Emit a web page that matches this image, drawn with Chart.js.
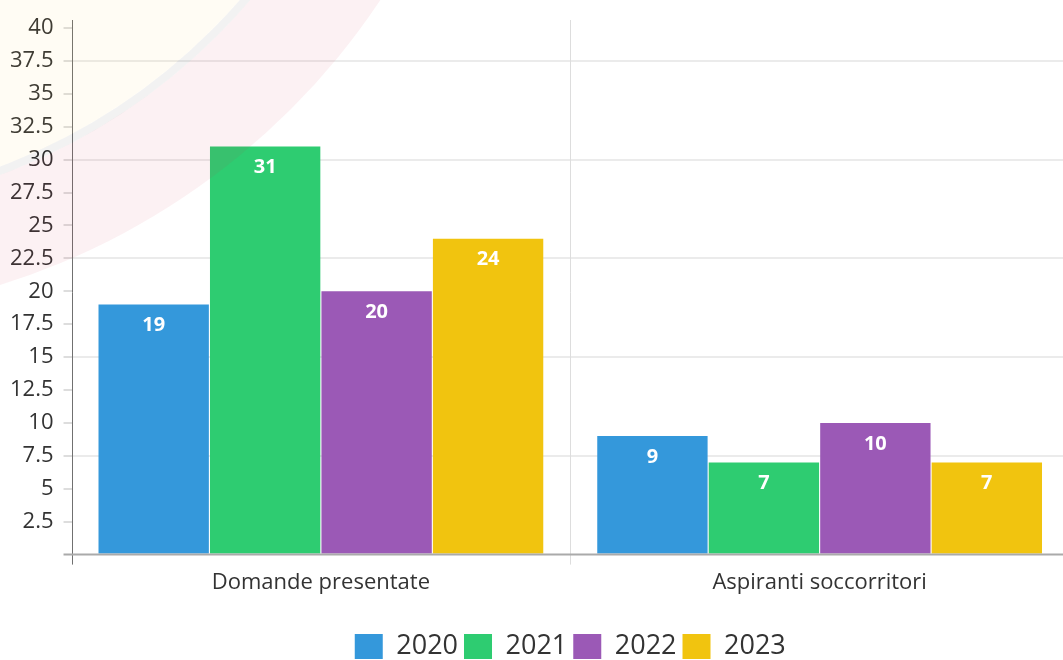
<!DOCTYPE html>
<html>
<head>
<meta charset="utf-8">
<script src="https://cdn.jsdelivr.net/npm/chart.js@4/dist/chart.umd.min.js"></script>
<style>
  html, body { margin: 0; padding: 0; background: #fff; overflow: hidden; }
  #wrap { width: 1140px; height: 660px; position: relative; }
</style>
</head>
<body>
<div id="wrap"><canvas id="c" width="1140" height="660"></canvas></div>
<script>
const categories = ["Domande presentate", "Aspiranti soccorritori"];
const seriesNames = ["2020", "2021", "2022", "2023"];
const values2020 = [19, 9];
const values2021 = [31, 7];
const values2022 = [20, 10];
const values2023 = [24, 7];
const seriesColors = ["#3498db", "#2ecc71", "#9b59b6", "#f1c40f"];
const yTickStep = 2.5;
const yMax = 40;

const allValues = [values2020, values2021, values2022, values2023];
const FONT = "'Open Sans', 'Noto Sans', sans-serif";

// faint watermark (logo rings) over the top-left corner
const watermark = {
  id: 'watermark',
  afterDraw(chart) {
    const ctx = chart.ctx;
    const cx = -211, cy = -393;
    ctx.save();
    ctx.beginPath();
    ctx.arc(cx, cy, 710, 0, Math.PI * 2);
    ctx.arc(cx, cy, 606, 0, Math.PI * 2, true);
    ctx.fillStyle = 'rgba(215,40,80,0.065)';
    ctx.fill('evenodd');
    ctx.beginPath();
    ctx.arc(cx, cy, 602, 0, Math.PI * 2);
    ctx.strokeStyle = 'rgba(0,0,0,0.05)';
    ctx.lineWidth = 8;
    ctx.stroke();
    ctx.beginPath();
    ctx.arc(cx, cy, 598, 0, Math.PI * 2);
    ctx.fillStyle = 'rgba(255,200,60,0.06)';
    ctx.fill();
    ctx.restore();
  }
};

const valueLabels = {
  id: 'valueLabels',
  afterDatasetsDraw(chart) {
    const ctx = chart.ctx;
    ctx.save();
    ctx.fillStyle = '#ffffff';
    ctx.font = "bold 20px " + FONT;
    ctx.textAlign = 'center';
    ctx.textBaseline = 'middle';
    chart.data.datasets.forEach((ds, di) => {
      const meta = chart.getDatasetMeta(di);
      meta.data.forEach((bar, i) => {
        ctx.fillText(String(ds.data[i]), bar.x, bar.y + 21);
      });
    });
    ctx.restore();
  }
};

const frameLines = {
  id: 'frameLines',
  afterLayout(chart) {
    const lg = chart.legend;
    const a = chart.chartArea;
    if (lg) {
      const shift = (a.left + a.right) / 2 - (lg.left + lg.right) / 2;
      lg.left += shift;
      lg.right += shift;
    }
  },
  beforeDatasetsDraw(chart) {
    const ctx = chart.ctx;
    const a = chart.chartArea;
    const x = chart.scales.x;
    const mid = (x.getPixelForValue(0) + x.getPixelForValue(1)) / 2;
    ctx.save();
    ctx.strokeStyle = '#dddddd';
    ctx.lineWidth = 1;
    ctx.beginPath();
    ctx.moveTo(Math.round(mid) + 0.5, a.top - 8);
    ctx.lineTo(Math.round(mid) + 0.5, a.bottom + 10);
    ctx.stroke();
    ctx.strokeStyle = '#707070';
    ctx.beginPath();
    ctx.moveTo(Math.round(a.left) + 0.5, a.top - 8);
    ctx.lineTo(Math.round(a.left) + 0.5, a.bottom + 10);
    ctx.stroke();
    ctx.restore();
  },
  afterDatasetsDraw(chart) {
    const ctx = chart.ctx;
    const a = chart.chartArea;
    ctx.save();
    ctx.strokeStyle = '#aaaaaa';
    ctx.lineWidth = 2;
    ctx.beginPath();
    ctx.moveTo(a.left - 8, a.bottom);
    ctx.lineTo(a.right, a.bottom);
    ctx.stroke();
    ctx.restore();
  }
};

new Chart(document.getElementById('c'), {
  type: 'bar',
  data: {
    labels: categories,
    datasets: seriesNames.map((n, i) => ({
      label: n,
      data: allValues[i],
      backgroundColor: seriesColors[i],
      borderWidth: 0,
      barPercentage: 0.99,
      categoryPercentage: 0.894
    }))
  },
  options: {
    responsive: false,
    animation: false,
    layout: { padding: { left: 0, right: 71, top: 28, bottom: -10 } },
    plugins: {
      tooltip: { enabled: false },
      legend: {
        position: 'bottom',
        labels: {
          color: '#333333',
          font: { family: FONT, size: 27 },
          boxWidth: 28,
          boxHeight: 25,
          padding: 6
        }
      }
    },
    scales: {
      x: {
        afterFit: s => { s.height += 24; },
        grid: { display: false },
        border: { display: false },
        ticks: {
          color: '#333333',
          font: { family: FONT, size: 22 },
          padding: 7
        }
      },
      y: {
        min: 0,
        max: yMax,
        border: { display: false },
        grid: {
          color: c => (c.tick && c.tick.value > 0 && Math.abs(c.tick.value % 7.5) < 1e-6) ? '#ebebeb' : 'rgba(0,0,0,0)',
          tickColor: c => (c.tick && c.tick.value === 0) ? 'rgba(0,0,0,0)' : '#dddddd',
          tickLength: 8,
          lineWidth: 2
        },
        ticks: {
          stepSize: yTickStep,
          color: '#333333',
          font: { family: FONT, size: 22 },
          padding: 10,
          callback: v => v === 0 ? '' : v
        }
      }
    }
  },
  plugins: [frameLines, valueLabels, watermark]
});
</script>
</body>
</html>
